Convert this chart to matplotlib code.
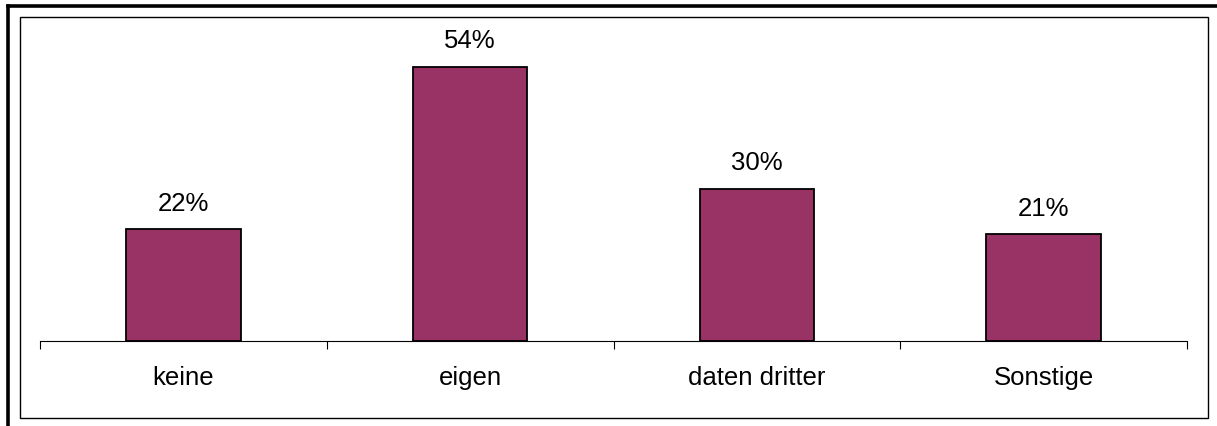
import matplotlib.pyplot as plt
from matplotlib.lines import Line2D
from matplotlib.patches import Rectangle

plt.rcParams['font.family'] = ['Liberation Sans', 'DejaVu Sans']

kategorien = ['keine', 'eigen', 'daten dritter', 'Sonstige']
anteile = [22, 54, 30, 21]

W, H = 1217, 427
fig = plt.figure(figsize=(W / 100, H / 100), dpi=100)

# Rahmen (aussen dick, nur links/oben sichtbar; innen duenn)
fig.add_artist(Line2D([7.5 / W, 7.5 / W], [0, 1 - 6.5 / H], transform=fig.transFigure,
                      color='black', lw=2.6))
fig.add_artist(Line2D([7.5 / W, 1], [1 - 6.5 / H, 1 - 6.5 / H], transform=fig.transFigure,
                      color='black', lw=2.6))
fig.add_artist(Rectangle((19.5 / W, 1 - 419 / H), (1208 - 19.5) / W, (419 - 18) / H,
                         transform=fig.transFigure, fill=False, edgecolor='black', lw=1.0))

ax = fig.add_axes([40 / W, (H - 342) / H, (1187 - 40) / W, 305 / H])
ax.patch.set_visible(False)
x = range(len(kategorien))
bars = ax.bar(x, anteile, width=0.4, color='#993366', edgecolor='black', linewidth=1.3)
for b, v in zip(bars, anteile):
    ax.annotate(f'{v}%', (b.get_x() + b.get_width() / 2, v), xytext=(0, 10.5),
                textcoords='offset points', ha='center', va='bottom', fontsize=18.5)

ax.set_xlim(-0.5, len(kategorien) - 0.5)
ax.set_ylim(0, 60)
for s in ['top', 'right', 'left']:
    ax.spines[s].set_visible(False)
ax.spines['bottom'].set_linewidth(0.8)
ax.set_yticks([])
ax.set_xticks([i - 0.5 for i in range(len(kategorien) + 1)])
ax.set_xticklabels([])
ax.tick_params(axis='x', which='major', length=6, width=0.8, direction='out')
ax.set_xticks(list(x), minor=True)
ax.set_xticklabels(kategorien, minor=True, fontsize=18.5)
ax.tick_params(axis='x', which='minor', length=0, pad=17)

fig.savefig('out.png', dpi=100)
